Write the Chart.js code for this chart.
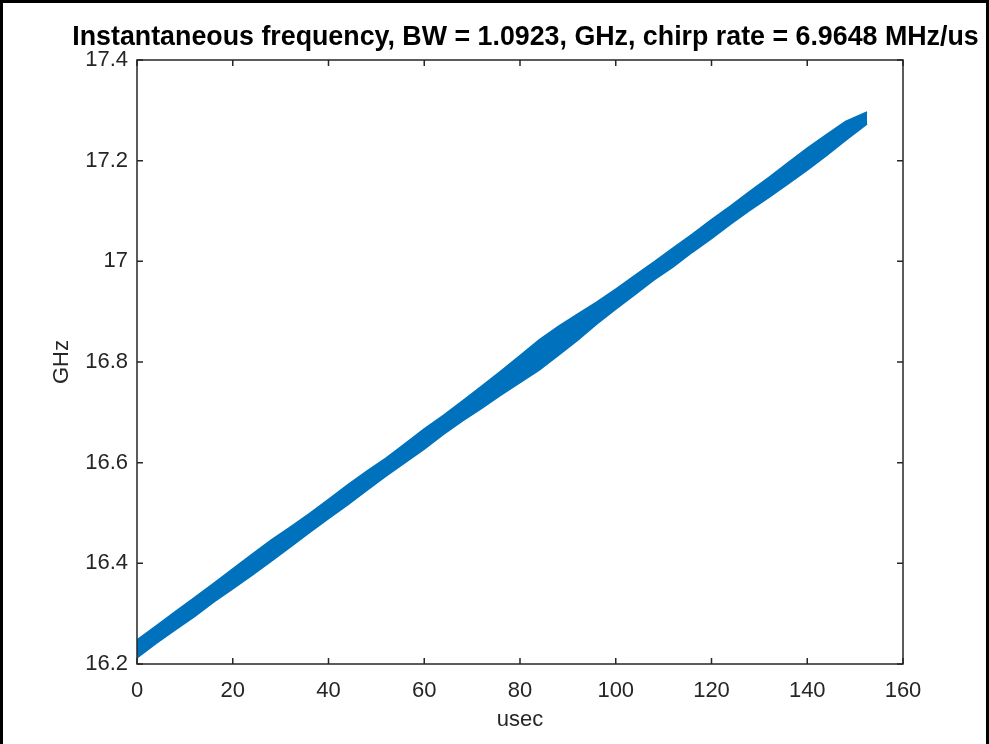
<!DOCTYPE html>
<html><head><meta charset="utf-8">
<script src="https://cdn.jsdelivr.net/npm/chart.js@4/dist/chart.umd.min.js"></script>
<style>html,body{margin:0;padding:0;background:#fff;overflow:hidden}#wrap{width:989px;height:744px;position:relative}</style>
</head><body><div id="wrap"><canvas id="c" width="989" height="744"></canvas></div>
<script>
const titleText = 'Instantaneous frequency, BW = 1.0923, GHz, chirp rate = 6.9648 MHz/us';
const xLabel = 'usec';
const yLabel = 'GHz';
const timeUsec = [0,4,8,12,16,20,24,28,32,36,40,44,48,52,56,60,64,68,72,76,80,84,88,92,96,100,104,108,112,116,120,124,128,132,136,140,144,148,152.5];
const freqUpperGHz = [16.248,16.276,16.304,16.332,16.360,16.389,16.418,16.446,16.472,16.499,16.527,16.556,16.583,16.609,16.638,16.667,16.694,16.723,16.752,16.782,16.813,16.844,16.871,16.895,16.919,16.945,16.972,16.999,17.027,17.054,17.083,17.110,17.139,17.167,17.196,17.225,17.252,17.278,17.297];
const freqLowerGHz = [16.212,16.241,16.268,16.294,16.323,16.349,16.376,16.404,16.432,16.461,16.489,16.516,16.545,16.573,16.600,16.627,16.656,16.683,16.708,16.734,16.759,16.784,16.813,16.843,16.875,16.905,16.934,16.963,16.989,17.018,17.045,17.074,17.101,17.127,17.154,17.181,17.210,17.240,17.273];
const xTickValues = [0,20,40,60,80,100,120,140,160];
const yTickValues = [16.2,16.4,16.6,16.8,17,17.2,17.4];

const FONT = "'Liberation Sans', Arial, Helvetica, sans-serif";
const BLUE = '#0072BD';
const AX = '#262626';

const framePlugin = {
  id: 'framePlugin',
  afterDraw(chart) {
    const {ctx, chartArea: a, scales: {x, y}} = chart;
    ctx.save();
    ctx.strokeStyle = AX;
    ctx.lineWidth = 1.5;
    ctx.strokeRect(a.left, a.top, a.right - a.left, a.bottom - a.top);
    const tl = 6;
    ctx.beginPath();
    xTickValues.forEach(v => {
      const px = x.getPixelForValue(v);
      ctx.moveTo(px, a.bottom); ctx.lineTo(px, a.bottom - tl);
      ctx.moveTo(px, a.top); ctx.lineTo(px, a.top + tl);
    });
    yTickValues.forEach(v => {
      const py = y.getPixelForValue(v);
      ctx.moveTo(a.left, py); ctx.lineTo(a.left + tl, py);
      ctx.moveTo(a.right, py); ctx.lineTo(a.right - tl, py);
    });
    ctx.stroke();
    // title
    ctx.fillStyle = '#000';
    ctx.font = 'bold 26.8px ' + FONT;
    ctx.textAlign = 'center';
    ctx.textBaseline = 'middle';
    ctx.fillText(titleText, 525.5, 38);
    // outer frame
    ctx.fillStyle = '#000';
    ctx.fillRect(0, 0, 989, 3);
    ctx.fillRect(0, 0, 3, 744);
    ctx.fillRect(986, 0, 3, 744);
    ctx.restore();
  }
};

const upperPts = timeUsec.map((t, i) => ({x: t, y: freqUpperGHz[i]}));
const lowerPts = timeUsec.map((t, i) => ({x: t, y: freqLowerGHz[i]}));

new Chart(document.getElementById('c'), {
  type: 'line',
  data: {
    datasets: [
      {label: 'upper', data: upperPts, borderColor: BLUE, backgroundColor: BLUE, borderWidth: 1.5, pointRadius: 0, fill: '+1', tension: 0},
      {label: 'lower', data: lowerPts, borderColor: BLUE, backgroundColor: BLUE, borderWidth: 1.5, pointRadius: 0, fill: false, tension: 0}
    ]
  },
  options: {
    responsive: false,
    animation: false,
    devicePixelRatio: 1,
    layout: {padding: {top: 60, right: 86, bottom: 0, left: 0}},
    plugins: {legend: {display: false}, title: {display: false}, tooltip: {enabled: false}},
    scales: {
      x: {
        type: 'linear', min: 0, max: 160,
        afterFit(s) { s.height = 80; },
        afterBuildTicks(s) { s.ticks = xTickValues.map(v => ({value: v})); },
        grid: {display: false, drawTicks: false},
        border: {display: false},
        ticks: {padding: 14, color: AX, font: {family: FONT, size: 22}, maxRotation: 0, callback: v => String(v)},
        title: {display: true, text: xLabel, color: AX, font: {family: FONT, size: 22}, padding: {top: 0, bottom: 11}}
      },
      y: {
        type: 'linear', min: 16.2, max: 17.4,
        afterFit(s) { s.width = 137; },
        afterBuildTicks(s) { s.ticks = yTickValues.map(v => ({value: v})); },
        grid: {display: false, drawTicks: false},
        border: {display: false},
        ticks: {padding: 9, color: AX, font: {family: FONT, size: 22}, callback: v => String(Number(v.toFixed(1)))},
        title: {display: true, text: yLabel, color: AX, font: {family: FONT, size: 22}, padding: {top: 49, bottom: 0}}
      }
    }
  },
  plugins: [framePlugin]
});
</script></body></html>
